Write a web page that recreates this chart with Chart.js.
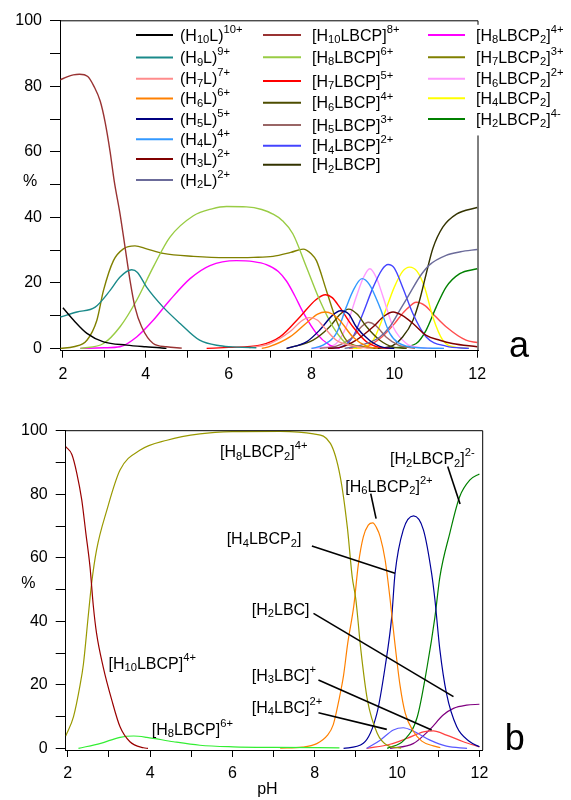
<!DOCTYPE html>
<html>
<head>
<meta charset="utf-8">
<script src="https://cdn.jsdelivr.net/npm/chart.js@4.4.1/dist/chart.umd.min.js"></script>
<style>
  html, body { margin: 0; padding: 0; background: #fff; }
  #wrap { position: relative; width: 571px; height: 800px; }
  canvas { position: absolute; left: 0; }
  #chart-a { top: 0; }
  #chart-b { top: 400px; }
</style>
</head>
<body>
<div id="wrap">
  <canvas id="chart-a" width="571" height="400"></canvas>
  <canvas id="chart-b" width="571" height="400"></canvas>
</div>
<script>
(function () {
  // ticks shared by both panels
  var PH_TICKS = [2, 3, 4, 5, 6, 7, 8, 9, 10, 11, 12];
  var PCT_TICKS = [0, 10, 20, 30, 40, 50, 60, 70, 80, 90, 100];

  // ---- panel a: [pH, %] ----
  var aH10L = [[2, 12.4], [2.26, 8.6], [2.58, 4.6], [2.98, 2], [3.54, 1], [4.0, 0.5], [4.34, 0.2], [4.5, 0]];
  var aH9L = [[1.94, 9.6], [2.34, 11.1], [2.78, 12.6], [3.14, 17.7], [3.38, 21.8], [3.66, 24], [3.8, 23.2], [4.02, 18.7],
    [4.42, 12.6], [4.83, 7.6], [5.3, 2.5], [5.79, 0.8], [6.2, 0.4], [6.67, 0.2]];
  var aH7L = [[6.5, 0.2], [7.0, 1.5], [7.5, 5.3], [7.75, 8.3], [7.95, 9.4], [8.15, 8.6], [8.28, 6.8], [8.6, 2.5], [9.0, 0.8], [9.4, 0]];
  var aH6L = [[6.8, 0], [7.0, 0.6], [7.48, 3.5], [7.9, 8], [8.15, 10.5], [8.34, 11.1], [8.5, 10.5], [8.68, 8.6], [9.0, 3.5], [9.33, 0.7], [9.6, 0]];
  var aH5L = [[7.4, 0], [7.88, 2], [8.2, 5.6], [8.5, 10], [8.7, 11.5], [8.9, 10.5], [9.08, 6.6], [9.4, 2.5], [9.73, 0.3], [10.0, 0]];
  var aH4L = [[8.0, 0], [8.28, 1], [8.6, 4.6], [8.84, 12.6], [9.0, 17.5], [9.22, 21.3], [9.4, 19.5], [9.65, 12.6], [9.89, 4.6],
    [10.29, 0.7], [10.8, 0.1], [11.2, 0]];
  var aH3L = [[8.4, 0], [8.7, 0.3], [9.08, 2.5], [9.49, 6.6], [9.75, 9.8], [9.97, 11.1], [10.2, 10], [10.45, 7.6], [10.77, 4],
    [11.1, 2.5], [11.4, 1.5], [12, 0.5]];
  var aH2L = [[8.8, 0], [9.2, 1], [9.65, 3.5], [9.89, 6.6], [10.13, 11.6], [10.37, 16.7], [10.61, 21.8], [10.85, 25.5],
    [11.25, 28.4], [11.6, 29.5], [12, 30.2]];
  var aH10LBCP = [[1.94, 82], [2.1, 82.9], [2.25, 83.5], [2.4, 83.7], [2.6, 83], [2.75, 80], [2.9, 75.5], [3.02, 69], [3.14, 60],
    [3.24, 51], [3.38, 41], [3.5, 30.9], [3.62, 20.8], [3.74, 12.6], [3.9, 6.6], [4.18, 1.5], [4.5, 0.5], [4.87, 0.1]];
  var aH8LBCP = [[2.42, 0], [2.98, 1.5], [3.38, 6.6], [3.78, 14.7], [4.18, 24.8], [4.58, 33.9], [5.15, 40.5], [5.6, 42.6],
    [5.95, 43.3], [6.43, 43.2], [6.8, 42.4], [7.07, 41], [7.3, 39], [7.55, 35], [7.88, 24.8], [8.2, 14.7], [8.52, 6.6],
    [8.84, 1.5], [9.1, 0.2]];
  var aH7LBCP = [[5.47, 0], [6.0, 0.3], [6.76, 1], [7.24, 3.5], [7.72, 9.6], [8.1, 14.8], [8.34, 16.4], [8.5, 15.5], [8.68, 12.6],
    [9.0, 6.6], [9.33, 2], [9.65, 0.3], [9.9, 0]];
  var aH6LBCP = [[7.4, 0], [7.5, 0.3], [8.04, 2.5], [8.44, 6.6], [8.7, 10.5], [8.9, 12], [9.1, 10.5], [9.33, 6.6], [9.65, 2.5],
    [10.0, 0.3], [10.3, 0]];
  var aH5LBCP = [[8.2, 0], [8.6, 0.7], [9.0, 3.5], [9.2, 6.5], [9.37, 8], [9.55, 7], [9.8, 3.5], [10.1, 1], [10.5, 0]];
  var aH4LBCP = [[8.4, 0], [8.68, 0.3], [9.0, 3.5], [9.24, 10.6], [9.49, 18.7], [9.7, 24], [9.85, 25.6], [10.0, 24.5], [10.2, 18.7],
    [10.45, 10.6], [10.77, 3.5], [11.25, 0.7], [11.8, 0]];
  var aH2LBCP = [[9.5, 0], [9.89, 0.5], [10.2, 3.5], [10.45, 8.6], [10.61, 14.7], [10.77, 22.8], [10.93, 30.5], [11.17, 37],
    [11.5, 41], [12, 43]];
  var aH8LBCP2 = [[2.42, 0], [3.0, 0.2], [3.38, 0.5], [3.78, 3.5], [4.18, 8.6], [4.58, 14.7], [5.07, 21.3], [5.55, 25.3],
    [6.19, 26.8], [6.6, 26.5], [6.91, 25.6], [7.2, 23.5], [7.4, 20.5], [7.6, 16], [7.8, 11], [8.12, 4.6], [8.44, 1], [8.68, 0]];
  var aH7LBCP2 = [[1.94, 0], [2.26, 0.5], [2.58, 2.5], [2.82, 8.6], [2.98, 17.7], [3.22, 26.8], [3.46, 30.4], [3.74, 31.3],
    [4.02, 30.4], [4.42, 29], [5.15, 28.1], [5.95, 27.7], [6.6, 27.8], [7.07, 28.1], [7.5, 29.3], [7.8, 30.3], [8.0, 28.8],
    [8.12, 26.8], [8.36, 17.7], [8.6, 8.6], [8.84, 2.5], [9.24, 0.5], [9.6, 0]];
  var aH6LBCP2 = [[8.0, 0], [8.28, 0.3], [8.6, 1.5], [8.84, 6.6], [9.08, 15.7], [9.25, 21.5], [9.41, 24.3], [9.57, 21.5],
    [9.73, 15.7], [9.97, 6.6], [10.29, 1.5], [10.6, 0.3], [10.9, 0]];
  var aH4LBCP2 = [[9.0, 0], [9.24, 0.3], [9.49, 2.5], [9.73, 9.6], [10.0, 18.7], [10.2, 23.5], [10.37, 24.8], [10.55, 23.5],
    [10.73, 18.7], [10.93, 9.6], [11.17, 2.5], [11.5, 0.3], [11.8, 0]];
  var aH2LBCP2 = [[9.8, 0], [10.1, 0.3], [10.53, 1.5], [10.77, 5.6], [11.01, 12.6], [11.25, 18.7], [11.58, 22.8], [12, 24.3]];
  var aRedBump = [[8.9, 0], [9.3, 0.5], [9.7, 3.5], [10.0, 7.5], [10.13, 9.6], [10.3, 12], [10.53, 14.1], [10.75, 13],
    [10.93, 10.6], [11.25, 6.6], [11.73, 2.5], [12, 1.8]];

  var A_SERIES = [aH10L, aH9L, aH7L, aH6L, aH5L, aH4L, aH3L, aH2L,
    aH10LBCP, aH8LBCP, aH7LBCP, aH6LBCP, aH5LBCP, aH4LBCP, aH2LBCP,
    aH8LBCP2, aH7LBCP2, aH6LBCP2, aH4LBCP2, aH2LBCP2, aRedBump];
  // names: _{..} subscript, ^{..} superscript; null = not in legend
  var A_NAMES = ["(H_{10}L)^{10+}", "(H_{9}L)^{9+}", "(H_{7}L)^{7+}", "(H_{6}L)^{6+}", "(H_{5}L)^{5+}", "(H_{4}L)^{4+}",
    "(H_{3}L)^{2+}", "(H_{2}L)^{2+}",
    "[H_{10}LBCP]^{8+}", "[H_{8}LBCP]^{6+}", "[H_{7}LBCP]^{5+}", "[H_{6}LBCP]^{4+}", "[H_{5}LBCP]^{3+}", "[H_{4}LBCP]^{2+}",
    "[H_{2}LBCP]",
    "[H_{8}LBCP_{2}]^{4+}", "[H_{7}LBCP_{2}]^{3+}", "[H_{6}LBCP_{2}]^{2+}", "[H_{4}LBCP_{2}]", "[H_{2}LBCP_{2}]^{4-}", null];
  var A_COLORS = ["#000000", "#1a8a8a", "#ff8c8c", "#ff8000", "#000080", "#3399ff", "#800000", "#6b6b9a",
    "#993333", "#99cc44", "#ff0000", "#4d4d00", "#996666", "#4444ff", "#333300",
    "#ff00ff", "#808000", "#ff99ff", "#ffff00", "#008000", "#ff4d4d"];

  // ---- panel b ----
  var bH10LBCP = [[1.95, 95], [2.1, 92.5], [2.22, 86.6], [2.34, 78.2], [2.44, 67.7], [2.54, 57.2], [2.62, 45], [2.7, 36.2],
    [2.86, 25.7], [3.07, 15.2], [3.27, 6.8], [3.51, 2.1], [3.84, 0.2], [3.95, 0]];
  var bH8LBCP2 = [[1.95, 3.9], [2.14, 10], [2.3, 20], [2.38, 26.5], [2.5, 42], [2.58, 52], [2.7, 62.5], [2.95, 75], [3.27, 87.6],
    [3.76, 93.9], [4.41, 97], [5.21, 99], [6.0, 99.7], [7.16, 99.8], [7.97, 99], [8.38, 96], [8.62, 85.5], [8.79, 69.8],
    [8.91, 54], [9.0, 46.7], [9.12, 31], [9.28, 15.2], [9.52, 4.7], [9.76, 1], [10.1, 0.1]];
  var bH8LBCP = [[2.26, 0], [2.8, 1.6], [3.27, 3.5], [3.6, 3.9], [3.92, 3.5], [4.57, 2.1], [5.21, 1], [6.02, 0.5], [7.0, 0.3], [8.6, 0.2]];
  var bH6LBCP2 = [[7.16, 0.1], [7.7, 0.4], [8.05, 1.5], [8.3, 4], [8.45, 7.5], [8.6, 16], [8.7, 23], [8.8, 33], [8.95, 45],
    [9.06, 58], [9.18, 66.6], [9.3, 70.3], [9.41, 71], [9.5, 69.5], [9.59, 66.6], [9.71, 59.3], [9.83, 47], [9.93, 35],
    [10.07, 20], [10.2, 11], [10.39, 5.5], [10.6, 2.3], [10.88, 0.8], [11.05, 0.2]];
  var bH4LBCP2 = [[8.7, 0], [9.18, 1.6], [9.51, 11], [9.71, 25.7], [9.87, 41.4], [9.95, 55], [10.15, 68.8], [10.4, 73.2],
    [10.64, 68.8], [10.84, 55], [10.92, 46.7], [11.04, 31], [11.2, 17.3], [11.45, 6.8], [11.77, 2.1], [12.0, 0.5]];
  var bH2LBCP2 = [[9.76, 0], [10.17, 2.6], [10.49, 9.9], [10.73, 25.7], [10.92, 41.4], [11.04, 54], [11.28, 67.7], [11.52, 79.2],
    [11.77, 84.5], [12.0, 86.4]];
  var bH4LBC = [[9.26, 0], [9.59, 2.6], [9.91, 5.8], [10.15, 6.5], [10.39, 5.5], [10.8, 2.6], [11.2, 0.7], [11.7, 0]];
  var bH3LBC = [[9.26, 0], [9.83, 1.3], [10.23, 3.1], [10.64, 5.2], [10.88, 5.5], [11.2, 4.2], [11.61, 2.1], [12, 0.5]];
  var bH2LBC = [[9.83, 0], [10.39, 1.5], [10.8, 6], [11.12, 10.5], [11.37, 12.6], [11.69, 13.6], [12, 13.9]];

  var B_SERIES = [bH10LBCP, bH8LBCP2, bH8LBCP, bH6LBCP2, bH4LBCP2, bH2LBCP2, bH4LBC, bH3LBC, bH2LBC];
  var B_COLORS = ["#990000", "#999900", "#33ee33", "#ff8000", "#000099", "#008000", "#5a5aff", "#ff4040", "#800080"];

  // panel b callouts: text anchor [pH, %], optional leader line [pH, %] -> [pH, %]
  var B_NOTES = [
    { text: "[H_{8}LBCP_{2}]^{4+}", at: [5.70, 93.4] },
    { text: "[H_{4}LBCP_{2}]", at: [5.86, 66.1], from: [7.93, 63.7], to: [9.95, 55.1] },
    { text: "[H_{6}LBCP_{2}]^{2+}", at: [8.74, 82.6], from: [9.36, 80.2], to: [9.49, 72.3] },
    { text: "[H_{2}LBCP_{2}]^{2-}", at: [9.83, 91.3], from: [11.23, 88.7], to: [11.53, 76.9] },
    { text: "[H_{2}LBC]", at: [6.47, 43.9], from: [7.97, 42.5], to: [11.37, 16.3] },
    { text: "[H_{3}LBC]^{+}", at: [6.47, 23.1], from: [8.09, 21.5], to: [10.84, 5.8] },
    { text: "[H_{4}LBC]^{2+}", at: [6.47, 13.1], from: [8.09, 11.2], to: [9.75, 6.0] },
    { text: "[H_{10}LBCP]^{4+}", at: [2.99, 26.9] },
    { text: "[H_{8}LBCP]^{6+}", at: [4.04, 6.1] }
  ];

  // legend slots for panel a (three columns)
  var LEGEND_A = [
    { x0: 136, x1: 173, tx: 180, rows: [35, 57.5, 78.7, 98.5, 119, 139.3, 159, 180] },
    { x0: 263, x1: 301, tx: 312, rows: [35, 57.3, 81, 102.7, 125, 145.7, 164.7] },
    { x0: 428, x1: 465, tx: 476, rows: [35, 57.3, 78.7, 98.3, 119] }
  ];

  var FONT = '"Liberation Sans", Arial, sans-serif';

  function parseRich(s) {
    var out = [], i = 0, buf = "";
    while (i < s.length) {
      var c = s[i];
      if ((c === "_" || c === "^") && s[i + 1] === "{") {
        if (buf) { out.push({ t: buf, k: 0 }); buf = ""; }
        var end = s.indexOf("}", i);
        out.push({ t: s.slice(i + 2, end), k: c === "_" ? 1 : 2 });
        i = end + 1;
      } else {
        buf += c;
        i++;
      }
    }
    if (buf) out.push({ t: buf, k: 0 });
    return out;
  }

  function drawRich(ctx, s, x, yMid, size) {
    var base = yMid + size * 0.36;
    ctx.textAlign = "left";
    ctx.textBaseline = "alphabetic";
    ctx.fillStyle = "#000";
    parseRich(s).forEach(function (g) {
      var fs = g.k ? size * 0.7 : size;
      ctx.font = fs + "px " + FONT;
      var dy = g.k === 1 ? size * 0.15 : (g.k === 2 ? -size * 0.5 : 0);
      ctx.fillText(g.t, x, base + dy);
      x += ctx.measureText(g.t).width;
    });
  }

  function toPoints(arr) {
    return arr.map(function (p) { return { x: p[0], y: p[1] }; });
  }

  function makeDatasets(series, colors, names, width) {
    return series.map(function (s, i) {
      return {
        label: names ? names[i] : "",
        data: toPoints(s),
        borderColor: colors[i],
        backgroundColor: colors[i],
        borderWidth: width,
        pointRadius: 0,
        fill: false,
        cubicInterpolationMode: "monotone"
      };
    });
  }

  function scaleOpts(xMin, xMax, yMin, yWidth, xHeight) {
    var tickFont = { family: FONT, size: 16 };
    return {
      x: {
        type: "linear", min: xMin, max: xMax,
        afterBuildTicks: function (s) { s.ticks = PH_TICKS.map(function (v) { return { value: v }; }); },
        afterFit: function (s) { s.height = xHeight; },
        ticks: {
          autoSkip: false, maxRotation: 0, color: "#000", font: tickFont, padding: 7,
          callback: function (v) { return v % 2 === 0 ? String(v) : ""; }
        },
        grid: { drawOnChartArea: false, tickLength: 7, color: "#000" },
        border: { display: true, color: "#000", width: 1 }
      },
      y: {
        type: "linear", min: yMin, max: 100,
        afterBuildTicks: function (s) { s.ticks = PCT_TICKS.map(function (v) { return { value: v }; }); },
        afterFit: function (s) { s.width = yWidth; },
        ticks: {
          autoSkip: false, color: "#000", font: tickFont, padding: 8,
          callback: function (v) { return v % 20 === 0 ? String(v) : ""; }
        },
        grid: { drawOnChartArea: false, tickLength: 10, color: "#000" },
        border: { display: true, color: "#000", width: 1 }
      }
    };
  }

  // frame, axis labels, legend and callouts
  var decor = {
    id: "decor",
    afterDraw: function (chart, args, o) {
      var ctx = chart.ctx, a = chart.chartArea, xs = chart.scales.x, ys = chart.scales.y;
      ctx.save();
      ctx.strokeStyle = "#000";
      ctx.lineWidth = 1;
      ctx.beginPath();
      ctx.moveTo(a.left, a.top);
      ctx.lineTo(a.right, a.top);
      if (o.rightBreak != null) {
        ctx.lineTo(a.right, a.top + 4);
        ctx.moveTo(a.right, ys.getPixelForValue(o.rightBreak));
      }
      ctx.lineTo(a.right, a.bottom);
      ctx.stroke();

      ctx.fillStyle = "#000";
      ctx.font = "16px " + FONT;
      ctx.textAlign = "center";
      ctx.textBaseline = "middle";
      ctx.fillText("%", a.left - o.pctDx, ys.getPixelForValue(o.pctAt));
      if (o.xTitle) {
        ctx.textBaseline = "alphabetic";
        ctx.fillText(o.xTitle, xs.getPixelForValue(o.xTitleAt), a.bottom + 44);
      }
      ctx.font = "36px " + FONT;
      ctx.textBaseline = "alphabetic";
      ctx.fillText(o.tag, a.right + o.tagDx, a.bottom + o.tagDy);

      if (o.legend) {
        var k = 0;
        o.legend.forEach(function (col) {
          col.rows.forEach(function (ry) {
            var ds = chart.data.datasets[k++];
            ctx.strokeStyle = ds.borderColor;
            ctx.lineWidth = 2;
            ctx.beginPath();
            ctx.moveTo(col.x0, ry);
            ctx.lineTo(col.x1, ry);
            ctx.stroke();
            drawRich(ctx, ds.label, col.tx, ry, 16);
          });
        });
      }

      if (o.notes) {
        o.notes.forEach(function (n) {
          if (n.from) {
            ctx.strokeStyle = "#000";
            ctx.lineWidth = 1.6;
            ctx.beginPath();
            ctx.moveTo(xs.getPixelForValue(n.from[0]), ys.getPixelForValue(n.from[1]));
            ctx.lineTo(xs.getPixelForValue(n.to[0]), ys.getPixelForValue(n.to[1]));
            ctx.stroke();
          }
          drawRich(ctx, n.text, xs.getPixelForValue(n.at[0]), ys.getPixelForValue(n.at[1]), 16);
        });
      }
      ctx.restore();
    }
  };

  new Chart(document.getElementById("chart-a"), {
    type: "line",
    data: { datasets: makeDatasets(A_SERIES, A_COLORS, A_NAMES, 1.4) },
    options: {
      responsive: false,
      animation: false,
      layout: { padding: { left: 0, right: 93, top: 20.8, bottom: 0 } },
      scales: scaleOpts(1.93, 12.02, -0.7, 60, 49.3),
      plugins: {
        legend: { display: false },
        tooltip: { enabled: false },
        decor: { rightBreak: 65, pctDx: 30, pctAt: 51, tag: "a", tagDx: 41, tagDy: 6, legend: LEGEND_A }
      }
    },
    plugins: [decor]
  });

  new Chart(document.getElementById("chart-b"), {
    type: "line",
    data: { datasets: makeDatasets(B_SERIES, B_COLORS, null, 1.2) },
    options: {
      responsive: false,
      animation: false,
      layout: { padding: { left: 0, right: 88.3, top: 30.7, bottom: 0 } },
      scales: scaleOpts(1.95, 12.08, -0.5, 65.7, 50),
      plugins: {
        legend: { display: false },
        tooltip: { enabled: false },
        decor: { pctDx: 37.4, pctAt: 52, xTitle: "pH", xTitleAt: 6.85, tag: "b", tagDx: 32, tagDy: 0, notes: B_NOTES }
      }
    },
    plugins: [decor]
  });
})();
</script>
</body>
</html>
